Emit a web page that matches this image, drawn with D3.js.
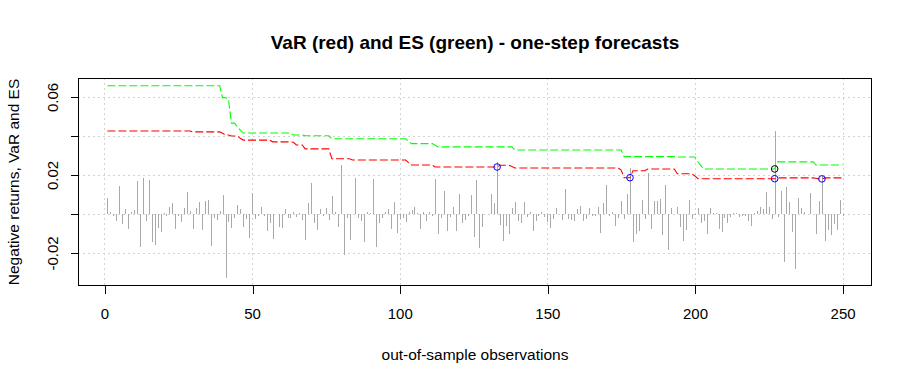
<!DOCTYPE html>
<html><head><meta charset="utf-8">
<script src="https://cdn.jsdelivr.net/npm/d3@7"></script>
<style>body{margin:0;background:#fff}svg{display:block}text{font-family:"Liberation Sans",Arial,sans-serif}</style>
</head><body><svg id="c" width="912" height="384"></svg>
<script>
// negative returns, observation 1..250
const returns = [
0.0084,0.0009,-0.0012,-0.0038,0.0145,-0.0050,0.0027,-0.0079,0.0012,0.0022,
0.0171,-0.0171,0.0185,-0.0038,0.0176,-0.0145,-0.0161,-0.0074,-0.0094,0.0003,
-0.0009,0.0038,0.0058,-0.0079,-0.0009,-0.0043,0.0032,0.0115,0.0017,-0.0079,
0.0032,0.0063,-0.0084,0.0068,0.0070,-0.0166,-0.0022,-0.0032,0.0017,0.0099,
-0.0330,-0.0043,-0.0074,-0.0022,0.0048,0.0027,-0.0068,-0.0027,-0.0125,0.0106,
-0.0027,-0.0009,0.0038,-0.0012,-0.0089,-0.0048,-0.0130,-0.0002,-0.0068,-0.0074,
0.0027,-0.0022,-0.0019,0.0012,-0.0017,0.0007,-0.0032,-0.0135,0.0058,0.0161,
-0.0048,-0.0084,0.0027,-0.0012,0.0032,-0.0032,0.0094,0.0012,-0.0068,0.0253,
-0.0212,-0.0022,-0.0135,-0.0002,0.0185,-0.0022,-0.0038,-0.0145,0.0012,0.0007,
0.0181,-0.0171,-0.0048,-0.0022,0.0012,0.0027,-0.0079,0.0063,-0.0099,-0.0027,
-0.0022,-0.0043,0.0012,0.0022,0.0038,0.0007,-0.0079,0.0012,-0.0038,0.0012,
-0.0012,0.0181,-0.0104,-0.0022,0.0120,-0.0089,-0.0017,0.0038,-0.0089,0.0104,
-0.0048,-0.0032,-0.0012,0.0099,-0.0120,0.0176,-0.0176,-0.0068,0.0002,0.0002,
0.0104,0.0058,0.0267,-0.0058,-0.0140,-0.0063,-0.0104,0.0032,0.0063,-0.0038,
-0.0048,0.0063,-0.0017,0.0012,-0.0089,-0.0038,-0.0012,0.0012,-0.0017,-0.0043,
-0.0074,-0.0027,0.0032,-0.0002,-0.0032,0.0130,-0.0027,-0.0032,-0.0038,0.0027,
0.0043,-0.0038,-0.0027,0.0032,-0.0012,-0.0012,0.0038,-0.0099,0.0058,0.0150,
-0.0012,0.0012,-0.0063,-0.0022,0.0068,-0.0027,0.0104,0.0236,-0.0145,-0.0104,
-0.0089,0.0074,-0.0027,0.0212,-0.0079,0.0068,0.0068,0.0079,-0.0109,0.0150,
-0.0186,0.0032,-0.0002,0.0038,-0.0068,-0.0140,-0.0084,0.0074,-0.0027,-0.0005,
0.0032,-0.0048,-0.0038,-0.0104,0.0032,0.0007,0.0007,-0.0079,-0.0094,-0.0022,
-0.0048,-0.0017,0.0007,0.0007,-0.0017,-0.0012,-0.0012,-0.0038,-0.0063,0.0007,
0.0017,0.0038,0.0027,0.0115,0.0038,-0.0027,0.0427,-0.0017,0.0120,-0.0248,
0.0140,0.0063,-0.0094,-0.0284,0.0084,0.0032,0.0012,-0.0002,0.0109,-0.0002,
-0.0104,0.0068,0.0195,-0.0140,-0.0084,-0.0109,-0.0053,-0.0084,0.0074,-0.0012
];
// one-step VaR forecasts
const VaR = [
0.0426,0.0426,0.0426,0.0426,0.0426,0.0426,0.0426,0.0426,0.0426,0.0426,
0.0426,0.0426,0.0426,0.0426,0.0426,0.0426,0.0426,0.0426,0.0426,0.0426,
0.0426,0.0426,0.0426,0.0426,0.0426,0.0426,0.0426,0.0426,0.0426,0.0421,
0.0421,0.0421,0.0421,0.0421,0.0421,0.0421,0.0421,0.0421,0.0421,0.0414,
0.0405,0.0405,0.0400,0.0400,0.0400,0.0388,0.0379,0.0379,0.0379,0.0379,
0.0379,0.0379,0.0379,0.0379,0.0379,0.0379,0.0370,0.0370,0.0370,0.0370,
0.0370,0.0370,0.0370,0.0368,0.0354,0.0354,0.0354,0.0334,0.0334,0.0334,
0.0334,0.0334,0.0334,0.0334,0.0334,0.0334,0.0283,0.0283,0.0283,0.0283,
0.0283,0.0283,0.0283,0.0277,0.0277,0.0277,0.0277,0.0277,0.0277,0.0277,
0.0277,0.0277,0.0277,0.0277,0.0277,0.0277,0.0277,0.0277,0.0277,0.0277,
0.0277,0.0277,0.0263,0.0251,0.0251,0.0251,0.0251,0.0251,0.0251,0.0251,
0.0251,0.0241,0.0241,0.0241,0.0241,0.0241,0.0241,0.0241,0.0241,0.0241,
0.0241,0.0241,0.0241,0.0241,0.0241,0.0241,0.0241,0.0241,0.0241,0.0241,
0.0241,0.0241,0.0241,0.0250,0.0250,0.0250,0.0250,0.0243,0.0236,0.0236,
0.0236,0.0236,0.0236,0.0236,0.0236,0.0236,0.0236,0.0236,0.0236,0.0236,
0.0236,0.0236,0.0236,0.0236,0.0236,0.0236,0.0236,0.0236,0.0236,0.0236,
0.0236,0.0236,0.0236,0.0236,0.0236,0.0236,0.0236,0.0236,0.0236,0.0236,
0.0236,0.0236,0.0236,0.0236,0.0225,0.0186,0.0186,0.0186,0.0222,0.0222,
0.0222,0.0222,0.0222,0.0231,0.0231,0.0231,0.0231,0.0231,0.0231,0.0231,
0.0231,0.0231,0.0231,0.0206,0.0206,0.0206,0.0206,0.0206,0.0206,0.0195,
0.0181,0.0181,0.0181,0.0181,0.0181,0.0181,0.0181,0.0181,0.0181,0.0181,
0.0181,0.0181,0.0181,0.0181,0.0181,0.0181,0.0181,0.0181,0.0181,0.0181,
0.0181,0.0181,0.0181,0.0181,0.0181,0.0181,0.0181,0.0185,0.0185,0.0185,
0.0185,0.0185,0.0185,0.0185,0.0185,0.0185,0.0185,0.0185,0.0185,0.0185,
0.0183,0.0180,0.0180,0.0185,0.0185,0.0185,0.0185,0.0185,0.0185,0.0185
];
// one-step ES forecasts
const ES = [
0.0658,0.0658,0.0658,0.0658,0.0658,0.0658,0.0658,0.0658,0.0658,0.0658,
0.0658,0.0658,0.0658,0.0658,0.0658,0.0658,0.0658,0.0658,0.0658,0.0658,
0.0658,0.0658,0.0658,0.0658,0.0658,0.0658,0.0658,0.0658,0.0658,0.0658,
0.0658,0.0658,0.0658,0.0658,0.0658,0.0658,0.0658,0.0658,0.0658,0.0597,
0.0597,0.0588,0.0466,0.0466,0.0448,0.0430,0.0415,0.0415,0.0415,0.0415,
0.0415,0.0415,0.0415,0.0415,0.0415,0.0415,0.0415,0.0415,0.0415,0.0415,
0.0415,0.0415,0.0415,0.0405,0.0405,0.0405,0.0405,0.0401,0.0401,0.0401,
0.0401,0.0401,0.0401,0.0401,0.0401,0.0401,0.0386,0.0386,0.0386,0.0386,
0.0386,0.0386,0.0386,0.0386,0.0386,0.0386,0.0386,0.0386,0.0386,0.0386,
0.0386,0.0386,0.0386,0.0386,0.0386,0.0386,0.0386,0.0386,0.0386,0.0386,
0.0386,0.0386,0.0372,0.0361,0.0361,0.0361,0.0361,0.0361,0.0361,0.0361,
0.0361,0.0353,0.0344,0.0344,0.0344,0.0344,0.0344,0.0344,0.0344,0.0344,
0.0344,0.0344,0.0344,0.0344,0.0344,0.0344,0.0344,0.0344,0.0344,0.0344,
0.0344,0.0344,0.0344,0.0344,0.0344,0.0344,0.0344,0.0344,0.0328,0.0328,
0.0328,0.0328,0.0328,0.0328,0.0328,0.0328,0.0328,0.0328,0.0328,0.0328,
0.0328,0.0328,0.0328,0.0328,0.0328,0.0328,0.0328,0.0328,0.0328,0.0328,
0.0328,0.0328,0.0328,0.0328,0.0328,0.0328,0.0328,0.0328,0.0328,0.0328,
0.0328,0.0328,0.0328,0.0328,0.0328,0.0294,0.0294,0.0294,0.0294,0.0294,
0.0294,0.0294,0.0294,0.0294,0.0294,0.0294,0.0294,0.0294,0.0294,0.0294,
0.0294,0.0294,0.0294,0.0292,0.0292,0.0292,0.0292,0.0292,0.0292,0.0292,
0.0268,0.0248,0.0231,0.0231,0.0231,0.0231,0.0231,0.0231,0.0231,0.0231,
0.0231,0.0231,0.0231,0.0231,0.0231,0.0231,0.0231,0.0231,0.0231,0.0231,
0.0231,0.0231,0.0231,0.0231,0.0231,0.0231,0.0231,0.0267,0.0267,0.0267,
0.0267,0.0267,0.0267,0.0267,0.0267,0.0267,0.0267,0.0267,0.0267,0.0267,
0.0251,0.0251,0.0251,0.0251,0.0251,0.0251,0.0251,0.0251,0.0251,0.0251
];
const xTicks = [0, 50, 100, 150, 200, 250];
const yTicks = [-0.02, 0.00, 0.02, 0.04, 0.06];
const yTickLabels = ["-0.02", "", "0.02", "", "0.06"];
const titleText = "VaR (red) and ES (green) - one-step forecasts";
const xLabel = "out-of-sample observations";
const yLabel = "Negative returns, VaR and ES";

const L = 78, R = 872, T = 78, B = 286;
const n = returns.length;
const obs = d3.range(1, n + 1);
const xr = [1, n], xpad = (xr[1] - xr[0]) * 0.04;
const ymin = d3.min(returns.concat(VaR, ES)), ymax = d3.max(returns.concat(VaR, ES));
const ypad = (ymax - ymin) * 0.04;
const x = d3.scaleLinear().domain([xr[0] - xpad, xr[1] + xpad]).range([L, R]);
const y = d3.scaleLinear().domain([ymin - ypad, ymax + ypad]).range([B, T]);

const svg = d3.select("#c");
const snap = v => Math.round(v) + 0.5;

// grid
const grid = svg.append("g").attr("stroke", "#d3d3d3").attr("stroke-dasharray", "2,3").attr("shape-rendering", "crispEdges");
grid.selectAll(".gx").data(xTicks).enter().append("line")
  .attr("x1", d => snap(x(d))).attr("x2", d => snap(x(d))).attr("y1", T).attr("y2", B);
grid.selectAll(".gy").data(yTicks).enter().append("line")
  .attr("y1", d => snap(y(d))).attr("y2", d => snap(y(d))).attr("x1", L).attr("x2", R);

// returns as vertical bars
svg.append("g").attr("stroke", "#a9a9a9").attr("stroke-width", 1).attr("shape-rendering", "crispEdges")
  .selectAll("line").data(obs).enter().append("line")
  .attr("x1", i => snap(x(i))).attr("x2", i => snap(x(i)))
  .attr("y1", y(0)).attr("y2", i => y(returns[i - 1]));

// VaR and ES lines
const line = arr => d3.line().x(i => x(i)).y(i => y(arr[i - 1]))(obs);
svg.append("path").attr("d", line(ES)).attr("fill", "none").attr("stroke", "#00ff00").attr("stroke-width", 1.1).attr("stroke-dasharray", "8,3");
svg.append("path").attr("d", line(VaR)).attr("fill", "none").attr("stroke", "#ff0000").attr("stroke-width", 1.1).attr("stroke-dasharray", "8,3");

// exceedances
const varExc = obs.filter(i => returns[i - 1] > VaR[i - 1]);
const esExc = obs.filter(i => returns[i - 1] > ES[i - 1]);
svg.append("g").selectAll("circle").data(varExc).enter().append("circle")
  .attr("cx", i => x(i)).attr("cy", i => y(VaR[i - 1])).attr("r", 3.3)
  .attr("fill", "none").attr("stroke", "#0000ff").attr("stroke-width", 1);
svg.append("g").selectAll("circle").data(esExc).enter().append("circle")
  .attr("cx", i => x(i)).attr("cy", i => y(ES[i - 1])).attr("r", 3.3)
  .attr("fill", "none").attr("stroke", "#000").attr("stroke-width", 1);

// box
svg.append("rect").attr("x", L + 0.5).attr("y", T + 0.5).attr("width", R - L - 1).attr("height", B - T - 1)
  .attr("fill", "none").attr("stroke", "#000").attr("stroke-width", 1).attr("shape-rendering", "crispEdges");

// axes
const xAxis = d3.axisBottom(x).tickValues(xTicks).tickSize(8).tickPadding(15).tickFormat(d3.format("d"));
const gx = svg.append("g").attr("transform", `translate(0,${B - 0.5})`).call(xAxis);
gx.select(".domain").remove();
gx.selectAll(".tick line").attr("shape-rendering", "crispEdges").attr("transform", "translate(0.5,0)");
gx.selectAll("text").attr("font-size", 15).attr("fill", "#000").attr("font-family", "Liberation Sans, Arial, sans-serif");

const yAxis = d3.axisLeft(y).tickValues(yTicks).tickSize(8).tickFormat((d, k) => yTickLabels[k]);
const gy = svg.append("g").attr("transform", `translate(${L + 0.5},0)`).call(yAxis);
gy.select(".domain").remove();
gy.selectAll(".tick line").attr("shape-rendering", "crispEdges");
gy.selectAll("text").attr("font-size", 15).attr("fill", "#000").attr("font-family", "Liberation Sans, Arial, sans-serif")
  .attr("text-anchor", "middle").attr("x", null).attr("dy", null)
  .attr("transform", "translate(-26,0) rotate(-90)").attr("dy", "0.35em");

// titles
svg.append("text").attr("x", (L + R) / 2).attr("y", 49).attr("text-anchor", "middle")
  .attr("font-size", 19).attr("font-weight", "bold").text(titleText);
svg.append("text").attr("x", (L + R) / 2).attr("y", 360).attr("text-anchor", "middle")
  .attr("font-size", 15.5).text(xLabel);
svg.append("text").attr("transform", `translate(19,${(T + B) / 2}) rotate(-90)`).attr("text-anchor", "middle")
  .attr("font-size", 15.5).text(yLabel);
</script></body></html>
